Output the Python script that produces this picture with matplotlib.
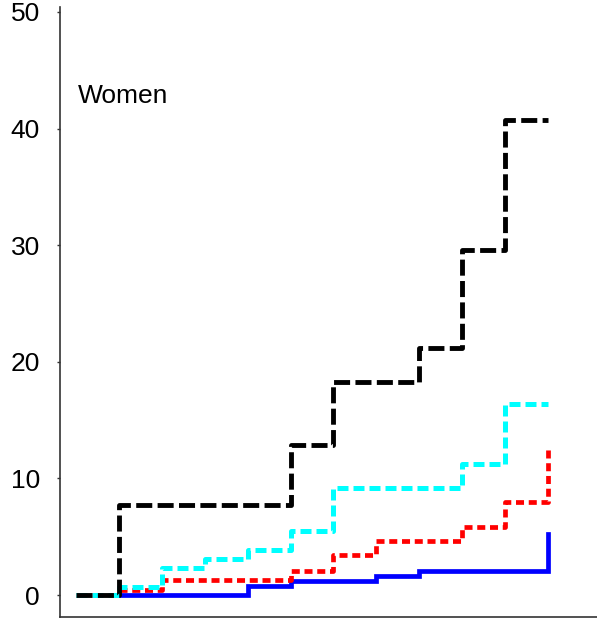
import numpy as np
import matplotlib
matplotlib.use("Agg")
import matplotlib.pyplot as plt

plt.rcParams['font.family'] = ['Liberation Sans', 'DejaVu Sans']

time_points = list(range(12))
black_vals = [0, 7.7, 7.7, 7.7, 7.7, 12.9, 18.3, 18.3, 21.2, 29.6, 40.7, 40.7]
cyan_vals = [0, 0.7, 2.3, 3.1, 3.9, 5.5, 9.2, 9.2, 9.2, 11.2, 16.4, 16.4]
red_vals = [np.nan, 0.4, 1.3, 1.3, 1.3, 2.1, 3.45, 4.6, 4.6, 5.85, 8.0, 12.75]
blue_vals = [np.nan, 0, 0, 0, 0.8, 1.2, 1.2, 1.65, 2.1, 2.1, 2.1, 5.2]
y_ticks = [0, 10, 20, 30, 40, 50]
panel_label = "Women"

fig = plt.figure(figsize=(5.97, 6.20), dpi=100)
ax = fig.add_axes([0.1005, 0.0048, 0.8995, 0.984])

ax.plot(time_points, blue_vals, drawstyle='steps-post', color='#0000ff', lw=3.4,
        solid_joinstyle='miter', zorder=2)
ax.plot(time_points, red_vals, drawstyle='steps-post', color='#ff0000', lw=3.4,
        dashes=(1.7, 1.0), zorder=3)
ax.plot(time_points, cyan_vals, drawstyle='steps-post', color='#00ffff', lw=3.6,
        dashes=(2.2, 1.0), zorder=4)
ax.plot(time_points, black_vals, drawstyle='steps-post', color='#000000', lw=3.5,
        dashes=(3.3, 1.1), zorder=5)

ax.set_xlim(-0.373, 12.14)
ax.set_ylim(-1.88, 50.43)
ax.set_yticks(y_ticks)
ax.set_yticklabels([str(t) for t in y_ticks], fontsize=19)
ax.set_xticks([])
ax.tick_params(axis='y', direction='out', length=2.5, width=1, color='#333333', pad=12)
for s in ['top', 'right']:
    ax.spines[s].set_visible(False)
for s in ['left', 'bottom']:
    ax.spines[s].set_color('#333333')
    ax.spines[s].set_linewidth(1.2)

ax.text(0.05, 42.8, panel_label, fontsize=19, va='center', ha='left')

fig.savefig("out.png", dpi=100)
